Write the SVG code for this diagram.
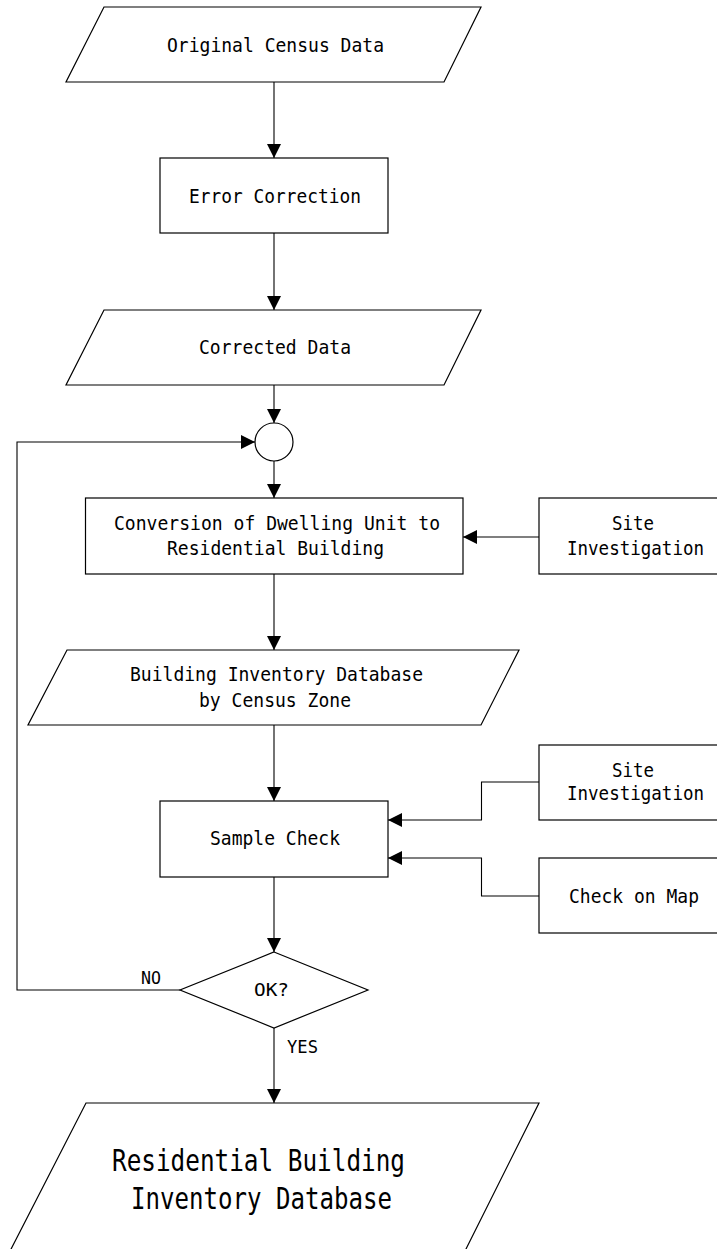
<svg xmlns="http://www.w3.org/2000/svg" width="717" height="1249" viewBox="0 0 717 1249">
<style>
.s{fill:#fff;stroke:#000;stroke-width:1.2}
.c{fill:none;stroke:#000;stroke-width:1.1}
.t{font-family:"DejaVu Sans Mono","Liberation Mono",monospace;font-size:20px;fill:#000}
.sm{font-family:"DejaVu Sans Mono","Liberation Mono",monospace;font-size:17px;fill:#000}
.b{font-family:"DejaVu Sans Mono","Liberation Mono",monospace;font-size:30px;fill:#000}
</style>
<defs>
<marker id="ah" viewBox="0 0 14 14" refX="14" refY="7" markerWidth="14" markerHeight="14" markerUnits="userSpaceOnUse" orient="auto">
<path d="M0,0 L14,7 L0,14 Z" fill="#000"/>
</marker>
</defs>
<rect width="717" height="1249" fill="#fff"/>
<g id="connectors">
<line class="c" x1="274" y1="82" x2="274" y2="158" marker-end="url(#ah)"/>
<line class="c" x1="274" y1="233" x2="274" y2="310" marker-end="url(#ah)"/>
<line class="c" x1="274" y1="385" x2="274" y2="423" marker-end="url(#ah)"/>
<line class="c" x1="274" y1="461" x2="274" y2="498" marker-end="url(#ah)"/>
<line class="c" x1="539" y1="537" x2="463" y2="537" marker-end="url(#ah)"/>
<line class="c" x1="274" y1="574" x2="274" y2="650" marker-end="url(#ah)"/>
<line class="c" x1="274" y1="725" x2="274" y2="801" marker-end="url(#ah)"/>
<polyline class="c" points="539,782 481.5,782 481.5,820 388,820" marker-end="url(#ah)"/>
<polyline class="c" points="539,896 481.5,896 481.5,858 388,858" marker-end="url(#ah)"/>
<line class="c" x1="274" y1="877" x2="274" y2="952" marker-end="url(#ah)"/>
<polyline class="c" points="180,990 17,990 17,442 255,442" marker-end="url(#ah)"/>
<line class="c" x1="274" y1="1028" x2="274" y2="1103" marker-end="url(#ah)"/>
<text class="sm" x="141" y="984" textLength="20" lengthAdjust="spacingAndGlyphs">NO</text>
<text class="sm" x="287" y="1053" textLength="31" lengthAdjust="spacingAndGlyphs">YES</text>
</g>
<g id="original-census-data">
<polygon class="s" points="104,7 481,7 444,82 66,82"/>
<text class="t" x="167" y="52" textLength="217" lengthAdjust="spacingAndGlyphs">Original Census Data</text>
</g>
<g id="error-correction">
<rect class="s" x="160" y="158" width="228" height="75"/>
<text class="t" x="189" y="203" textLength="172" lengthAdjust="spacingAndGlyphs">Error Correction</text>
</g>
<g id="corrected-data">
<polygon class="s" points="104,310 481,310 444,385 66,385"/>
<text class="t" x="199" y="354" textLength="152" lengthAdjust="spacingAndGlyphs">Corrected Data</text>
</g>
<g id="junction">
<circle class="s" cx="274" cy="442" r="19"/>
</g>
<g id="conversion">
<rect class="s" x="85.5" y="498" width="377.5" height="76"/>
<text class="t" x="114" y="530" textLength="326" lengthAdjust="spacingAndGlyphs">Conversion of Dwelling Unit to</text>
<text class="t" x="167" y="555" textLength="217" lengthAdjust="spacingAndGlyphs">Residential Building</text>
</g>
<g id="site-investigation-1">
<rect class="s" x="539" y="498" width="190" height="76"/>
<text class="t" x="612" y="530" textLength="42" lengthAdjust="spacingAndGlyphs">Site</text>
<text class="t" x="567" y="555" textLength="137" lengthAdjust="spacingAndGlyphs">Investigation</text>
</g>
<g id="building-inventory-db">
<polygon class="s" points="67,650 519,650 481,725 28,725"/>
<text class="t" x="130" y="681" textLength="293" lengthAdjust="spacingAndGlyphs">Building Inventory Database</text>
<text class="t" x="199" y="707" textLength="152" lengthAdjust="spacingAndGlyphs">by Census Zone</text>
</g>
<g id="site-investigation-2">
<rect class="s" x="539" y="745" width="190" height="75"/>
<text class="t" x="612" y="777" textLength="42" lengthAdjust="spacingAndGlyphs">Site</text>
<text class="t" x="567" y="800" textLength="137" lengthAdjust="spacingAndGlyphs">Investigation</text>
</g>
<g id="sample-check">
<rect class="s" x="160" y="801" width="228" height="76"/>
<text class="t" x="210" y="845" textLength="130" lengthAdjust="spacingAndGlyphs">Sample Check</text>
</g>
<g id="check-on-map">
<rect class="s" x="539" y="858" width="190" height="75"/>
<text class="t" x="569" y="903" textLength="130" lengthAdjust="spacingAndGlyphs">Check on Map</text>
</g>
<g id="ok-decision">
<polygon class="s" points="274,952 368,990 274,1028 180,990"/>
<text class="sm" x="254" y="996" textLength="35" lengthAdjust="spacingAndGlyphs">OK?</text>
</g>
<g id="residential-building-inventory-db">
<polygon class="s" points="86,1103 539,1103 463,1255 8,1255"/>
<text class="b" x="112" y="1171" textLength="293" lengthAdjust="spacingAndGlyphs">Residential Building</text>
<text class="b" x="131" y="1209" textLength="261" lengthAdjust="spacingAndGlyphs">Inventory Database</text>
</g>
</svg>
